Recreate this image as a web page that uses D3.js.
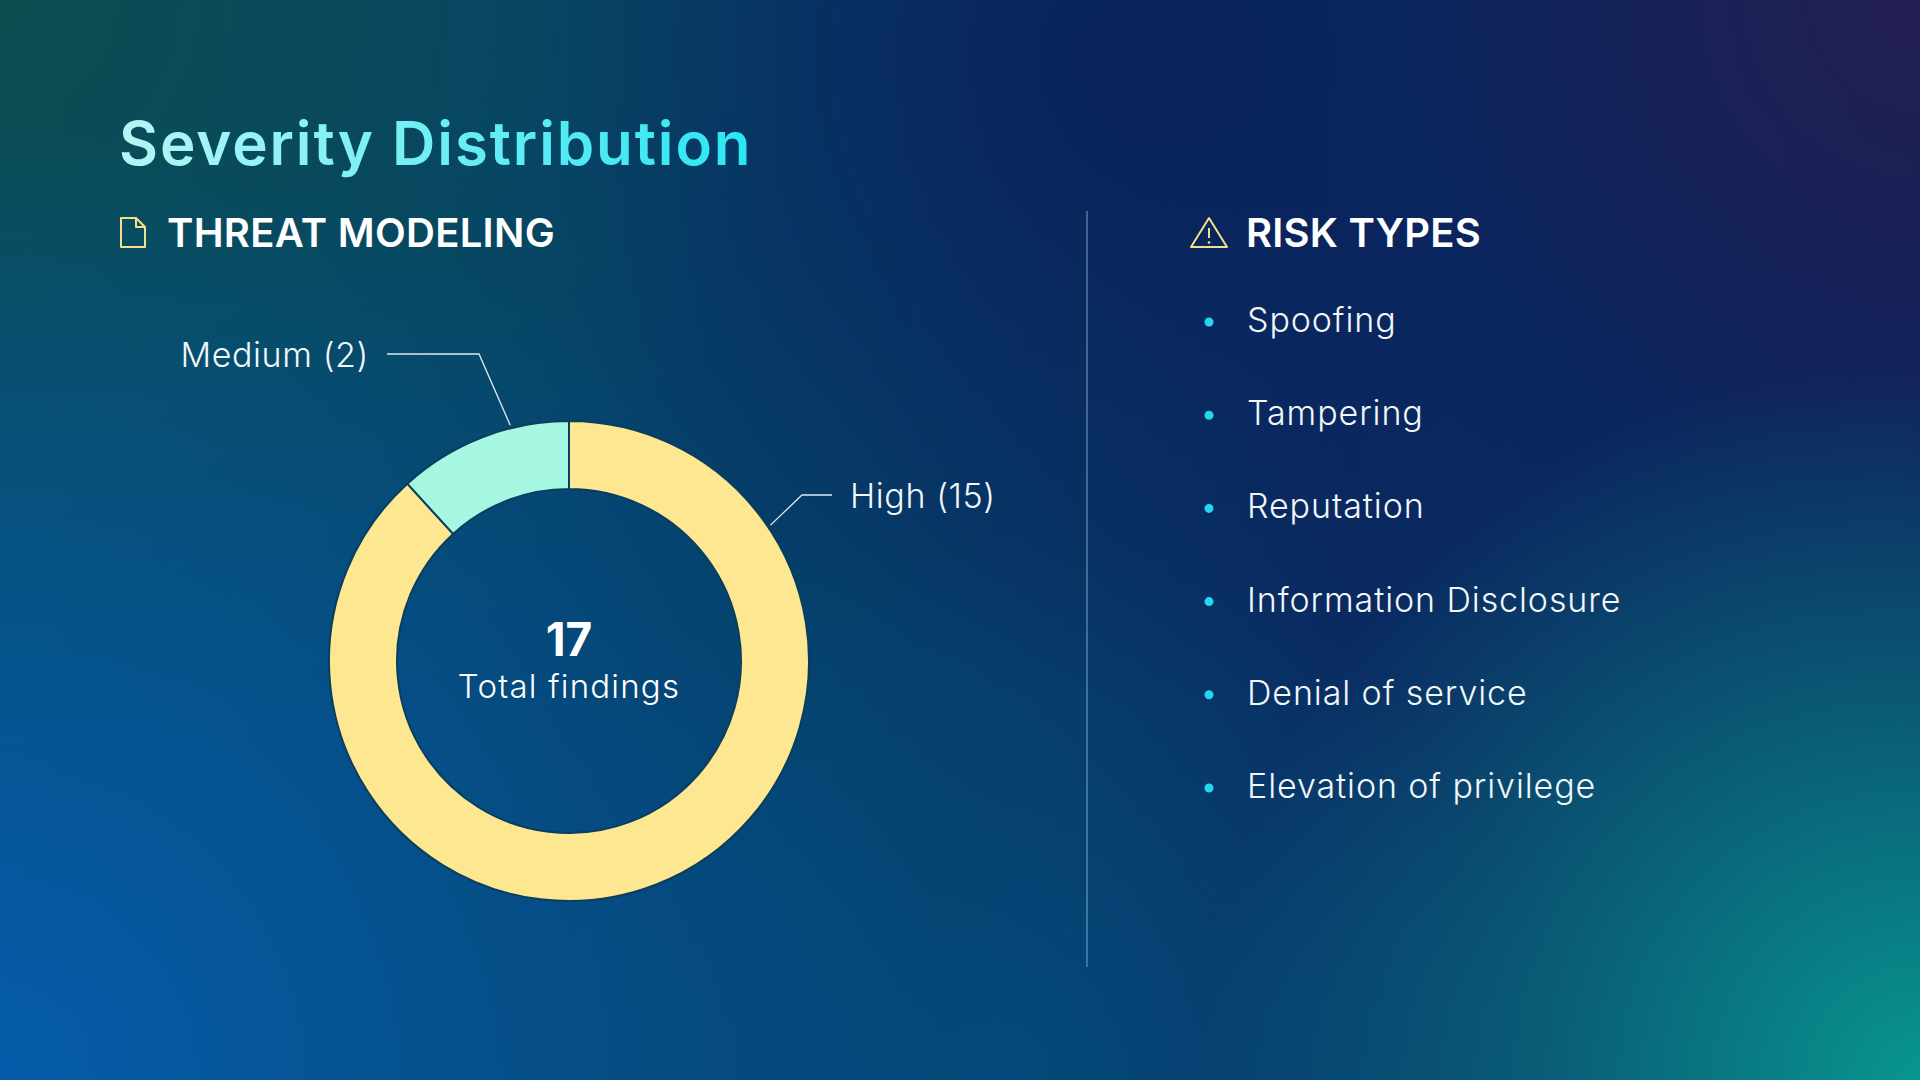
<!DOCTYPE html>
<html>
<head>
<meta charset="utf-8">
<script src="https://cdn.jsdelivr.net/npm/d3@7/dist/d3.min.js"></script>
<style>
  html, body { margin: 0; padding: 0; background: #0a2d62; overflow: hidden; }
  svg { display: block; }
  text { font-family: Inter, "Noto Sans", sans-serif; }
</style>
</head>
<body>
<script>
// chart data
var severityNames = ["High", "Medium"];
var severityCounts = [15, 2];
var severityColors = ["#fde891", "#a5f7e2"];
var riskTypes = ["Spoofing", "Tampering", "Reputation", "Information Disclosure", "Denial of service", "Elevation of privilege"];

var width = 1920,
    height = 1080;

var svg = d3.select("body").append("svg")
  .attr("width", width)
  .attr("height", height);

var defs = svg.append("defs");

// background: horizontal base with coloured glows in the corners
var base = defs.append("linearGradient").attr("id", "bgBase")
  .attr("x1", "0%").attr("x2", "100%").attr("y1", "0%").attr("y2", "0%");
[["0%", "#04496c"], ["45%", "#053f6a"], ["70%", "#0a2b62"], ["100%", "#0c225c"]].forEach(function (s) {
  base.append("stop").attr("offset", s[0]).attr("stop-color", s[1]);
});

function radial(id, cx, cy, r, color) {
  var g = defs.append("radialGradient").attr("id", id)
    .attr("gradientUnits", "userSpaceOnUse")
    .attr("cx", cx).attr("cy", cy).attr("r", r);
  g.append("stop").attr("offset", "0%").attr("stop-color", color).attr("stop-opacity", 1);
  g.append("stop").attr("offset", "100%").attr("stop-color", color).attr("stop-opacity", 0);
}
radial("bgTL", 0, 0, 800, "#0b4d50");
radial("bgTM", 1150, 60, 650, "#0a215a");
radial("bgTR", 1920, 0, 520, "#231f52");
radial("bgBL", 0, 1080, 950, "#065cab");
radial("bgBR", 1920, 1080, 720, "#08968f");
radial("bgBC", 1000, 1080, 550, "#044a7a");

svg.append("rect").attr("width", width).attr("height", height).attr("fill", "url(#bgBase)");
["bgBC", "bgTM", "bgTL", "bgTR", "bgBL", "bgBR"].forEach(function (id) {
  svg.append("rect").attr("width", width).attr("height", height).attr("fill", "url(#" + id + ")");
});

// title
var titleGrad = defs.append("linearGradient").attr("id", "titleGrad")
  .attr("x1", "0%").attr("x2", "100%").attr("y1", "0%").attr("y2", "0%");
titleGrad.append("stop").attr("offset", "0%").attr("stop-color", "#b4f6f6");
titleGrad.append("stop").attr("offset", "100%").attr("stop-color", "#2ae6f4");

svg.append("text")
  .attr("x", 119).attr("y", 165)
  .attr("font-size", 60).attr("font-weight", 600)
  .attr("letter-spacing", 1.9)
  .attr("fill", "url(#titleGrad)")
  .text("Severity Distribution");

// section headers + icons
var iconColor = "#f3e08a";
svg.append("path")
  .attr("d", "M121,218 H136 L145,227 V247 H121 Z M136,218 V227 H145")
  .attr("fill", "none").attr("stroke", iconColor).attr("stroke-width", 2)
  .attr("stroke-linejoin", "round");
svg.append("text")
  .attr("x", 167).attr("y", 247)
  .attr("font-size", 40).attr("font-weight", 600).attr("fill", "#ffffff")
  .attr("letter-spacing", 0.3)
  .text("THREAT MODELING");

svg.append("path")
  .attr("d", "M1209,218 L1227,247 H1191 Z")
  .attr("fill", "none").attr("stroke", iconColor).attr("stroke-width", 2)
  .attr("stroke-linejoin", "round");
svg.append("line")
  .attr("x1", 1209).attr("x2", 1209).attr("y1", 228).attr("y2", 238)
  .attr("stroke", iconColor).attr("stroke-width", 2);
svg.append("circle").attr("cx", 1209).attr("cy", 242.5).attr("r", 1.3).attr("fill", iconColor);
svg.append("text")
  .attr("x", 1246).attr("y", 247)
  .attr("font-size", 40).attr("font-weight", 600).attr("fill", "#ffffff")
  .attr("letter-spacing", 0.2)
  .text("RISK TYPES");

// divider
svg.append("line")
  .attr("x1", 1087).attr("x2", 1087).attr("y1", 211).attr("y2", 967)
  .attr("stroke", "#7fb2d6").attr("stroke-opacity", 0.6).attr("stroke-width", 1.5);

// donut
var cx = 569, cy = 661, outerR = 240, innerR = 172;
var data = severityNames.map(function (n, i) {
  return {name: n, value: severityCounts[i], color: severityColors[i]};
});
var pie = d3.pie().sort(null).value(function (d) { return d.value; });
var arc = d3.arc().innerRadius(innerR).outerRadius(outerR);
var arcs = pie(data);

var donut = svg.append("g").attr("transform", "translate(" + cx + "," + cy + ")");
donut.selectAll("path")
  .data(arcs)
  .enter().append("path")
  .attr("d", arc)
  .attr("fill", function (d) { return d.data.color; })
  .attr("stroke", "#0b3d5e")
  .attr("stroke-width", 2);

var total = d3.sum(severityCounts);
donut.append("text")
  .attr("text-anchor", "middle").attr("y", -5)
  .attr("font-size", 46).attr("font-weight", 700).attr("fill", "#ffffff")
  .text(total);
donut.append("text")
  .attr("text-anchor", "middle").attr("y", 37)
  .attr("font-size", 33).attr("font-weight", 300).attr("fill", "#ffffff")
  .attr("letter-spacing", 1.2)
  .text("Total findings");

// callout labels: anchor angle on the ring, elbow and text side
var callouts = [
  {angle: 56, elbow: [233, -166], end: [263, -166], side: 1},
  {angle: -14, elbow: [-90, -307], end: [-182, -307], side: -1}
];
var anchorArc = d3.arc().innerRadius(outerR + 3).outerRadius(outerR + 3);
arcs.forEach(function (a, i) {
  var c = callouts[i];
  var t = c.angle * Math.PI / 180;
  var p = anchorArc.centroid({startAngle: t, endAngle: t});
  donut.append("polyline")
    .attr("points", [p, c.elbow, c.end].map(function (q) { return q.join(","); }).join(" "))
    .attr("fill", "none").attr("stroke", "#dfe9f0").attr("stroke-width", 1.3);
  donut.append("text")
    .attr("x", c.end[0] + c.side * 18)
    .attr("y", c.end[1] + 13)
    .attr("text-anchor", c.side > 0 ? "start" : "end")
    .attr("font-size", 34).attr("font-weight", 300).attr("fill", "#f2f7fa")
    .attr("letter-spacing", 0.6)
    .text(a.data.name + " (" + a.data.value + ")");
});

// risk type list
var listY = d3.scalePoint().domain(riskTypes).range([332, 798]);
var items = svg.selectAll(".risk")
  .data(riskTypes)
  .enter().append("g")
  .attr("class", "risk")
  .attr("transform", function (d) { return "translate(0," + listY(d) + ")"; });
items.append("circle")
  .attr("cx", 1209).attr("cy", -10).attr("r", 4.5)
  .attr("fill", "#22d8ee");
items.append("text")
  .attr("x", 1247).attr("y", 0)
  .attr("font-size", 34).attr("font-weight", 300).attr("fill", "#f2f7fa")
  .attr("letter-spacing", 0.9)
  .text(function (d) { return d; });
</script>
</body>
</html>
